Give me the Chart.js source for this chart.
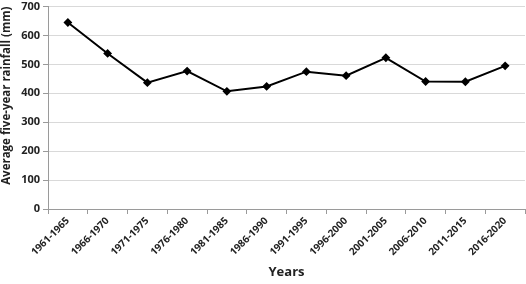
<!DOCTYPE html>
<html>
<head>
<meta charset="utf-8">
<script src="https://cdn.jsdelivr.net/npm/chart.js@4"></script>
<style>
    html, body { margin: 0; padding: 0; background: #ffffff; overflow: hidden; }
    #wrap { width: 530px; height: 287px; margin-top: -3px; position: relative; }
</style>
</head>
<body>
<div id="wrap"><canvas id="rainChart"></canvas></div>
<script>
var periods = ['1961-1965', '1966-1970', '1971-1975', '1976-1980', '1981-1985', '1986-1990',
    '1991-1995', '1996-2000', '2001-2005', '2006-2010', '2011-2015', '2016-2020'];
var rainfall = [645, 538, 437, 477, 407, 424, 475, 461, 523, 441, 440, 495];
var yTicks = [0, 100, 200, 300, 400, 500, 600, 700];

var fontName = "'Open Sans', 'Liberation Sans', sans-serif";

let chartConfig = {
    type: 'line',
    data: {
        labels: periods,
        datasets: [{
            label: 'Average five-year rainfall',
            data: rainfall,
            borderColor: '#000000',
            backgroundColor: '#000000',
            borderWidth: 2,
            pointStyle: 'rectRot',
            pointRadius: 3,
            pointHoverRadius: 3,
            tension: 0,
            fill: false
        }]
    },
    options: {
        responsive: true,
        maintainAspectRatio: false,
        animation: false,
        layout: { padding: { top: 0, right: 2, left: 0, bottom: 0 } },
        plugins: {
            legend: { display: false },
            tooltip: { enabled: false }
        },
        scales: {
            x: {
                offset: true,
                grid: {
                    offset: true,
                    drawOnChartArea: false,
                    drawTicks: true,
                    tickLength: 5,
                    color: '#9a9a9a'
                },
                border: { display: true, color: '#9a9a9a', width: 1 },
                ticks: {
                    minRotation: 45,
                    maxRotation: 45,
                    autoSkip: false,
                    padding: 1,
                    color: '#222222',
                    font: { family: fontName, size: 10, weight: 'bold' }
                },
                title: {
                    display: true,
                    text: 'Years',
                    color: '#222222',
                    padding: { top: 2, bottom: 4 },
                    font: { family: fontName, size: 13, weight: 'bold' }
                },
                afterFit: function (scale) { scale.height = 75; }
            },
            y: {
                min: 0,
                max: 700,
                afterBuildTicks: function (scale) {
                    scale.ticks = yTicks.map(function (v) { return { value: v }; });
                },
                grid: {
                    color: '#d9d9d9',
                    drawTicks: true,
                    tickLength: 5,
                    tickColor: '#9a9a9a'
                },
                border: { display: true, color: '#9a9a9a', width: 1 },
                ticks: {
                    padding: 3,
                    color: '#222222',
                    font: { family: fontName, size: 11, weight: 'bold' }
                },
                title: {
                    display: true,
                    text: 'Average five-year rainfall (mm)',
                    align: 'end',
                    color: '#222222',
                    padding: { top: 0, bottom: 1 },
                    font: { family: fontName, size: 11.5, weight: 'bold' }
                },
                afterFit: function (scale) { scale.width = 48; }
            }
        }
    }
};

var rainChart = new Chart(document.getElementById('rainChart'), chartConfig);
</script>
</body>
</html>
